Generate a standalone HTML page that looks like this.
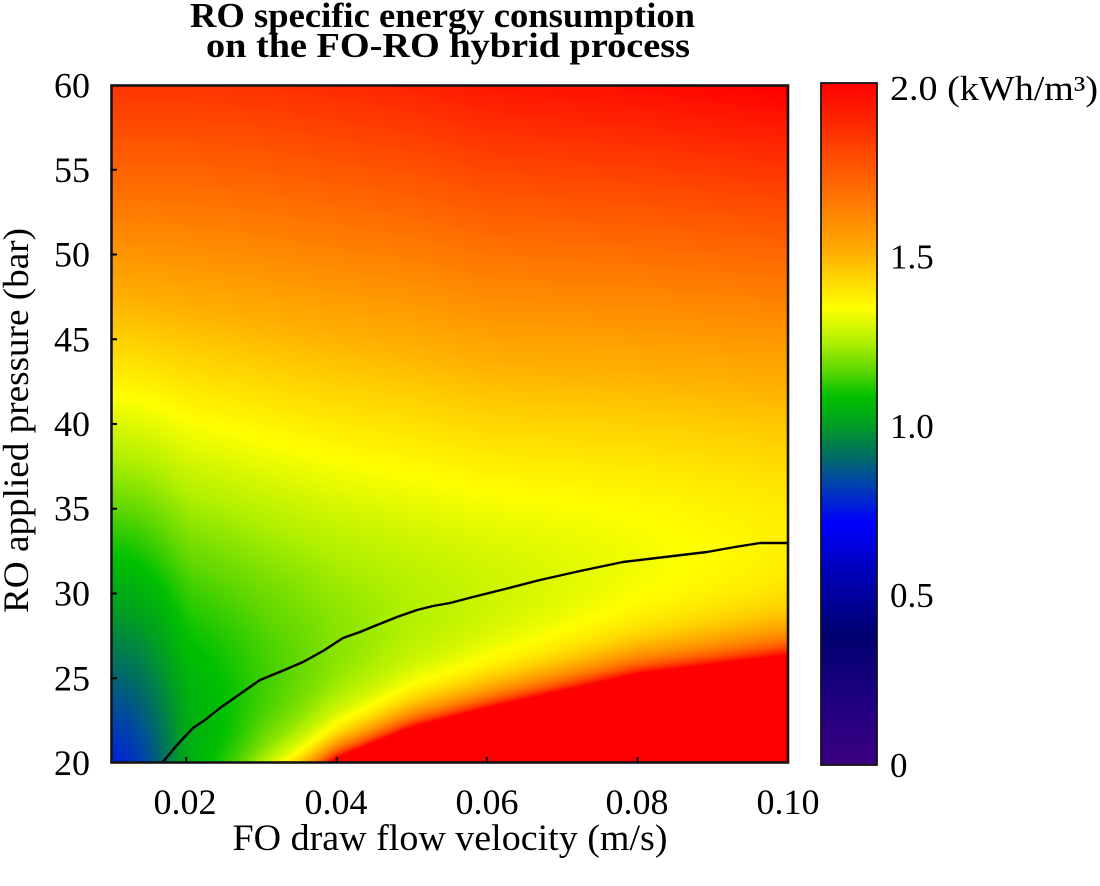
<!DOCTYPE html>
<html>
<head>
<meta charset="utf-8">
<style>
html,body{margin:0;padding:0;background:#fff;}
#wrap{position:relative;width:1100px;height:886px;overflow:hidden;background:#fff;}
#c{position:absolute;left:111px;top:85px;width:677px;height:678px;
 background:linear-gradient(to bottom,#ff2000 0%,#ff8000 25%,#ffd000 45%,#c0f000 60%,#a0e000 80%,#ff6000 100%);}
svg{position:absolute;left:0;top:0;}
text{font-family:"Liberation Serif","Times New Roman",serif;fill:#000;}
</style>
</head>
<body>
<div id="wrap">
<canvas id="c" width="677" height="678"></canvas>
<svg width="1100" height="886" viewBox="0 0 1100 886">
  <defs>
    <linearGradient id="cbg" x1="0" y1="0" x2="0" y2="1">
      <stop offset="0" stop-color="rgb(255,0,0)"/>
      <stop offset="0.185" stop-color="rgb(255,128,0)"/>
      <stop offset="0.25" stop-color="rgb(255,176,0)"/>
      <stop offset="0.33" stop-color="rgb(255,255,0)"/>
      <stop offset="0.38" stop-color="rgb(176,240,0)"/>
      <stop offset="0.42" stop-color="rgb(96,216,0)"/>
      <stop offset="0.46" stop-color="rgb(0,192,0)"/>
      <stop offset="0.5" stop-color="rgb(0,160,32)"/>
      <stop offset="0.545" stop-color="rgb(0,112,96)"/>
      <stop offset="0.59" stop-color="rgb(0,64,176)"/>
      <stop offset="0.645" stop-color="rgb(0,0,255)"/>
      <stop offset="0.71" stop-color="rgb(0,0,192)"/>
      <stop offset="0.81" stop-color="rgb(0,0,112)"/>
      <stop offset="0.91" stop-color="rgb(32,0,128)"/>
      <stop offset="1" stop-color="rgb(58,0,128)"/>
    </linearGradient>
  </defs>

  <!-- contour line -->
  <polyline fill="none" stroke="#000" stroke-width="2.4" stroke-linejoin="round"
    points="162,763 177,745 193,728 205,720 220,708 240,694 260,680 282,671 303,662 323,651 343,638 360,632 377,625 397,617 417,610 433,606 450,603 473,597 505,589 540,580 580,571 623,562 665,557 707,552 735,547 760,543 788,543"/>

  <!-- plot frame -->
  <rect x="111.5" y="85.5" width="676.5" height="677" fill="none" stroke="#151515" stroke-width="2.6"/>

  <!-- ticks -->
  <g stroke="#000" stroke-width="2">
    <line x1="111" y1="169.75" x2="117" y2="169.75"/>
    <line x1="111" y1="254.5" x2="117" y2="254.5"/>
    <line x1="111" y1="339.25" x2="117" y2="339.25"/>
    <line x1="111" y1="424" x2="117" y2="424"/>
    <line x1="111" y1="508.75" x2="117" y2="508.75"/>
    <line x1="111" y1="593.5" x2="117" y2="593.5"/>
    <line x1="111" y1="678.25" x2="117" y2="678.25"/>
    <line x1="186.2" y1="763" x2="186.2" y2="757"/>
    <line x1="336.7" y1="763" x2="336.7" y2="757"/>
    <line x1="487.1" y1="763" x2="487.1" y2="757"/>
    <line x1="637.5" y1="763" x2="637.5" y2="757"/>
  </g>

  <!-- colorbar -->
  <rect x="821" y="83" width="56" height="682" fill="url(#cbg)" stroke="#151515" stroke-width="1.8"/>

  <!-- y tick labels -->
  <g font-size="36" text-anchor="end">
    <text x="90" y="97.5">60</text>
    <text x="90" y="182">55</text>
    <text x="90" y="266.5">50</text>
    <text x="90" y="351.5">45</text>
    <text x="90" y="436">40</text>
    <text x="90" y="520.5">35</text>
    <text x="90" y="605.5">30</text>
    <text x="90" y="690.5">25</text>
    <text x="90" y="775">20</text>
  </g>

  <!-- x tick labels -->
  <g font-size="36" text-anchor="middle">
    <text x="185" y="814">0.02</text>
    <text x="336" y="814">0.04</text>
    <text x="487" y="814">0.06</text>
    <text x="637" y="814">0.08</text>
    <text x="788" y="814">0.10</text>
  </g>

  <!-- colorbar labels -->
  <g font-size="35">
    <text x="890" y="100" textLength="208" lengthAdjust="spacingAndGlyphs">2.0 (kWh/m³)</text>
    <text x="890" y="268.5">1.5</text>
    <text x="890" y="438">1.0</text>
    <text x="890" y="607">0.5</text>
    <text x="890" y="777">0</text>
  </g>

  <!-- axis titles -->
  <text x="450" y="850" font-size="37" text-anchor="middle" textLength="435" lengthAdjust="spacingAndGlyphs">FO draw flow velocity (m/s)</text>
  <text transform="translate(28,420.5) rotate(-90)" font-size="36" text-anchor="middle" textLength="385" lengthAdjust="spacingAndGlyphs">RO applied pressure (bar)</text>

  <!-- title -->
  <text x="442.5" y="27" font-size="35" font-weight="bold" text-anchor="middle" textLength="505" lengthAdjust="spacingAndGlyphs">RO specific energy consumption</text>
  <text x="448" y="57" font-size="35" font-weight="bold" text-anchor="middle" textLength="484" lengthAdjust="spacingAndGlyphs">on the FO-RO hybrid process</text>
</svg>
</div>
<script>
(function(){
  var X =[0.02, 0.03, 0.04, 0.05, 0.06, 0.08, 0.10];
  var PS=[21.6, 24.9, 27.15,28.9, 30.0, 31.95,33.0];
  var M =[1.03, 1.13, 1.20, 1.245,1.275,1.325,1.37];
  var BU=[0.025,0.025,0.025,0.025,0.025,0.025,0.025];
  var DU=[11,   11,   11,   10,   8.2,  8,    9];
  var EE=[0.00005,0.00005,0.00006,0.00007,0.00008,0.00012,0.00018];
  var DL=[11,   9,    8,    8,    8,    8,    8];
  var P01={ps:16.8,m:0.72,bu:0.028,du:3,e:0,dl:6};
  function interp(arr,x){
    var n=X.length;
    for(var k=0;k<n-1;k++){
      if(x<=X[k+1]||k==n-2){
        var t=(x-X[k])/(X[k+1]-X[k]); if(t<0)t=0; if(t>1)t=1;
        return arr[k]+(arr[k+1]-arr[k])*t;
      }
    }
    return arr[n-1];
  }
  function params(x){
    return {ps:interp(PS,x),m:interp(M,x),bu:interp(BU,x),du:interp(DU,x),e:interp(EE,x),dl:interp(DL,x)};
  }
  function val(P,p){
    var u=p-P.ps,v;
    if(u>=0){ v=P.m+P.bu*u*u/(P.du+u)+P.e*u*u; }
    else { var s=-u; v=(s>=P.dl)?2.3:P.m+0.02*s*s/(P.dl-s); }
    if(v>2.3)v=2.3; if(v<0)v=0;
    return v;
  }
  var S=[[2.0,255,0,0],[1.63,255,128,0],[1.5,255,176,0],[1.34,255,255,0],[1.24,176,240,0],[1.16,96,216,0],[1.08,0,192,0],[1.0,0,160,32],[0.91,0,112,96],[0.82,0,64,176],[0.71,0,0,255],[0.58,0,0,192],[0.38,0,0,112],[0.18,32,0,128],[0,58,0,128]];
  function col(v){
    if(v>=2) return [255,0,0];
    if(v<=0) return [58,0,128];
    for(var k=0;k<S.length-1;k++){
      if(v<=S[k][0]&&v>=S[k+1][0]){
        var t=(S[k][0]-v)/(S[k][0]-S[k+1][0]);
        return [S[k][1]+(S[k+1][1]-S[k][1])*t,S[k][2]+(S[k+1][2]-S[k][2])*t,S[k][3]+(S[k+1][3]-S[k][3])*t];
      }
    }
    return [255,0,0];
  }
  var c=document.getElementById('c');
  if(!c.getContext) return;
  var W=c.width,H=c.height,ctx=c.getContext('2d');
  var V=new Float32Array(W*H);
  var P02=params(0.02);
  for(var i=0;i<W;i++){
    var x=0.01+(i+0.5)/W*0.09;
    var P=null,w=0;
    if(x<0.02){ var t=(x-0.01)/0.01; w=Math.pow(t,1.8); }
    else { P=params(x); }
    for(var j=0;j<H;j++){
      var p=60-(j+0.5)/H*40, v;
      if(P){ v=val(P,p); }
      else { v=(1-w)*val(P01,p)+w*val(P02,p); }
      V[j*W+i]=v;
    }
  }
  var R=8, B=new Float32Array(W*H);
  for(var j2=0;j2<H;j2++){
    var row=j2*W;
    for(var i2=0;i2<W;i2++){
      var sum=0,cnt=0;
      for(var k=-R;k<=R;k++){
        var ii=i2+k; if(ii<0)ii=0; if(ii>=W)ii=W-1;
        sum+=V[row+ii]; cnt++;
      }
      B[row+i2]=sum/cnt;
    }
  }
  var img=ctx.createImageData(W,H),d=img.data;
  for(var q=0;q<W*H;q++){
    var cc=col(B[q]), o=q*4;
    d[o]=cc[0]; d[o+1]=cc[1]; d[o+2]=cc[2]; d[o+3]=255;
  }
  ctx.putImageData(img,0,0);
})();
</script>
</body>
</html>
